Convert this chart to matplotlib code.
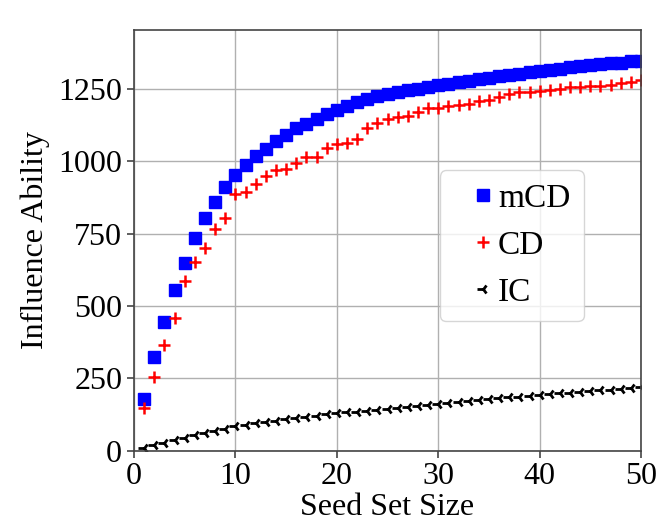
import matplotlib
matplotlib.use('Agg')
import matplotlib.pyplot as plt

seed_sizes = list(range(1, 51))

mcd_values = [178, 323, 446, 557, 650, 734, 805, 861, 910, 953,
              989, 1018, 1044, 1071, 1093, 1114, 1129, 1147, 1163, 1178,
              1193, 1206, 1216, 1225, 1233, 1240, 1246, 1252, 1258, 1264,
              1269, 1274, 1279, 1284, 1289, 1294, 1299, 1304, 1308, 1313,
              1317, 1321, 1325, 1329, 1332, 1336, 1339, 1342, 1346, 1349]

cd_values = [146, 255, 366, 460, 585, 651, 700, 768, 804, 886,
             894, 923, 948, 972, 975, 993, 1015, 1016, 1047, 1059,
             1064, 1077, 1116, 1132, 1148, 1155, 1158, 1170, 1185, 1186,
             1193, 1196, 1200, 1208, 1213, 1222, 1232, 1241, 1241, 1244,
             1246, 1250, 1257, 1259, 1261, 1261, 1264, 1270, 1276, 1282]

ic_values = [8, 18, 27, 36, 45, 53, 61, 68, 75, 84,
             89, 94, 99, 104, 109, 113, 117, 121, 125, 129,
             132, 135, 138, 141, 144, 147, 151, 155, 159, 163,
             166, 169, 172, 175, 178, 181, 184, 187, 190, 193,
             195, 198, 200, 203, 205, 208, 210, 213, 216, 219]

plt.rcParams['font.family'] = ['Liberation Serif', 'DejaVu Serif']
plt.rcParams['font.size'] = 23

fig = plt.figure(figsize=(6.65, 5.24), dpi=100)
ax = fig.add_axes([0.2015, 0.140, 0.7625, 0.803])

ax.plot(seed_sizes, mcd_values, linestyle='none', marker='s', markersize=9,
        color='blue', label='mCD')
ax.plot(seed_sizes, cd_values, linestyle='none', marker='+', markersize=9,
        markeredgewidth=1.8, color='red', label='CD')
ax.plot(seed_sizes, ic_values, linestyle='none', marker='3', markersize=8,
        markeredgewidth=2, color='black', label='IC')

ax.set_xlim(0, 50)
ax.set_ylim(0, 1455)
ax.set_xticks([0, 10, 20, 30, 40, 50])
ax.set_yticks([0, 250, 500, 750, 1000, 1250])
ax.grid(True, color='#b0b0b0', linewidth=1)
ax.set_axisbelow(True)
for spine in ax.spines.values():
    spine.set_color('#444444')
    spine.set_linewidth(1.2)
ax.tick_params(colors='#444444', labelcolor='black', width=1.2, length=5)

ax.set_xlabel('Seed Set Size', labelpad=1)
ax.set_ylabel('Influence Ability', labelpad=6)

ax.legend(loc='upper left', bbox_to_anchor=(0.603, 0.667), borderaxespad=0,
          fontsize=24, labelspacing=0.5, handlelength=1.8, handletextpad=-0.45)

fig.savefig('out.png', dpi=100)
